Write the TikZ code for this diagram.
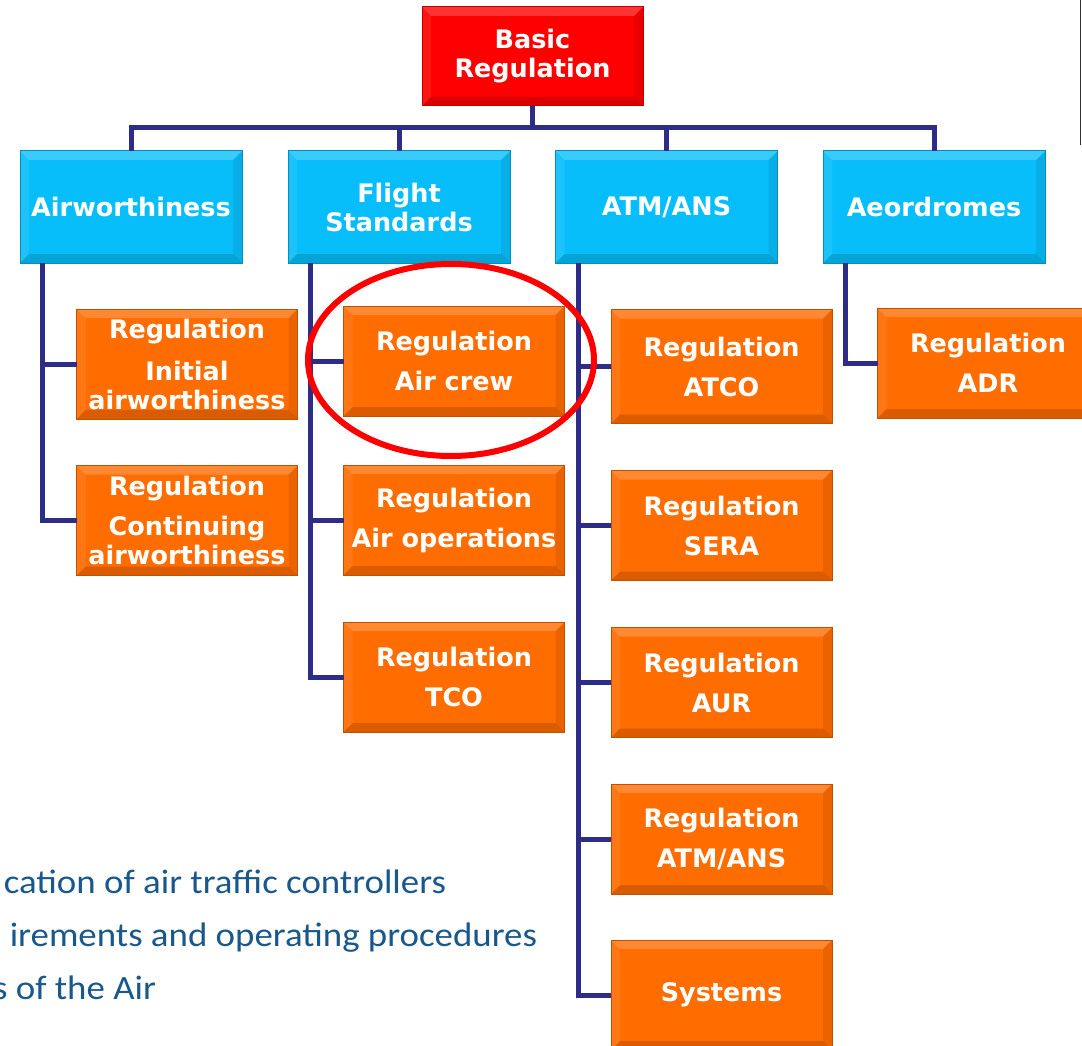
\documentclass[tikz,border=0pt]{standalone}
\usepackage{fontspec}
\setmainfont{DejaVu Sans}
\newfontfamily\notefont{Carlito}
\usetikzlibrary{calc}

\definecolor{regred}{RGB}{255,0,0}
\definecolor{domcyan}{RGB}{8,190,250}
\definecolor{regorange}{RGB}{255,108,0}
\definecolor{linknavy}{RGB}{45,45,135}
\definecolor{notetext}{RGB}{25,88,140}

\newcommand{\wideline}[1]{\scalebox{1.085}[1]{#1}}

\begin{document}
\begin{tikzpicture}
  [x=1pt,y=-1pt,
   every node/.style={font=\bfseries\fontsize{25.5}{29}\selectfont, text=white,
     align=center, inner sep=0pt, outer sep=0pt},
   bevel/.style={path picture={
     \fill[white,opacity=0.2] (path picture bounding box.north west) -- (path picture bounding box.north east)
       -- ($(path picture bounding box.north east)+(-9,9)$) -- ($(path picture bounding box.north west)+(9,9)$) -- cycle;
     \fill[white,opacity=0.08] (path picture bounding box.north west) -- ($(path picture bounding box.north west)+(9,9)$)
       -- ($(path picture bounding box.south west)+(9,-9)$) -- (path picture bounding box.south west) -- cycle;
     \fill[black,opacity=0.08] (path picture bounding box.north east) -- ($(path picture bounding box.north east)+(-9,9)$)
       -- ($(path picture bounding box.south east)+(-9,-9)$) -- (path picture bounding box.south east) -- cycle;
     \fill[black,opacity=0.14] (path picture bounding box.south west) -- ($(path picture bounding box.south west)+(9,-9)$)
       -- ($(path picture bounding box.south east)+(-9,-9)$) -- (path picture bounding box.south east) -- cycle;}},
   box/.style={rectangle, minimum width=221pt, minimum height=110pt, line width=1pt, bevel},
   basicbox/.style={box, fill=regred, draw=regred!75!black, minimum height=99pt},
   domainbox/.style={box, fill=domcyan, draw=domcyan!75!black, minimum width=222pt, minimum height=112pt},
   regbox/.style={box, fill=regorange, draw=regorange!75!black},
   notestyle/.style={font=\notefont\fontsize{34}{40}\selectfont, text=notetext, anchor=base east},
   link/.style={draw=linknavy, line width=5pt}]
  \useasboundingbox (0,0) rectangle (1082,1046);

  \node[basicbox] (basic) at (532.5,56.5) {Basic\\Regulation};

  \node[domainbox] (airw)   at (131,207)   {Airworthiness};
  \node[domainbox] (flight) at (399,207)   {Flight\\Standards};
  \node[domainbox] (atm)    at (666.5,207) {ATM/ANS};
  \node[domainbox] (aero)   at (934,207)   {Aeordromes};

  \node[regbox] (initair) at (187,364)   {Regulation\\[13pt]Initial\\airworthiness};
  \node[regbox] (contair) at (187,520.5) {Regulation\\[11pt]Continuing\\airworthiness};
  \node[regbox] (aircrew) at (454,361)   {Regulation\\[11pt]Air crew};
  \node[regbox] (airops)  at (454,520)   {Regulation\\[11pt]Air operations};
  \node[regbox] (tco)     at (454,677)   {Regulation\\[11pt]TCO};
  \node[regbox, minimum height=114pt] (atco) at (721.5,366.5) {Regulation\\[11pt]ATCO};
  \node[regbox] (sera)    at (721.5,525.5) {Regulation\\[11pt]SERA};
  \node[regbox] (aur)     at (721.5,682.5) {Regulation\\[11pt]AUR};
  \node[regbox] (atmans)  at (721.5,839)   {Regulation\\[11pt]ATM/ANS};
  \node[regbox] (systems) at (721.5,995)   {Systems};
  \node[regbox] (adr)     at (988,363)     {Regulation\\[11pt]ADR};

  % bus from the basic regulation
  \foreach \dom in {airw,flight,atm,aero}
    \draw[link] (basic.south) -- ++(0,22) -| (\dom.north);

  % spines down to the regulations
  \foreach \parent/\child in {airw/initair,airw/contair,flight/aircrew,flight/airops,flight/tco,
      atm/atco,atm/sera,atm/aur,atm/atmans,atm/systems,aero/adr}
    \draw[link] (\parent.south west) ++(22.5,0) |- (\child.west);

  \node[notestyle] (note1) at (446,893) {\wideline{cation of air traffic controllers}};
  \node[notestyle] (note2) at (537,946) {\wideline{irements and operating procedures}};
  \node[notestyle] (note3) at (156,999) {\wideline{s of the Air}};

  \draw[red, line width=6pt] (451,360) ellipse [x radius=143, y radius=96];
  \draw[black!80, line width=1.5pt] (1080.5,0) -- (1080.5,145);
\end{tikzpicture}
\end{document}
